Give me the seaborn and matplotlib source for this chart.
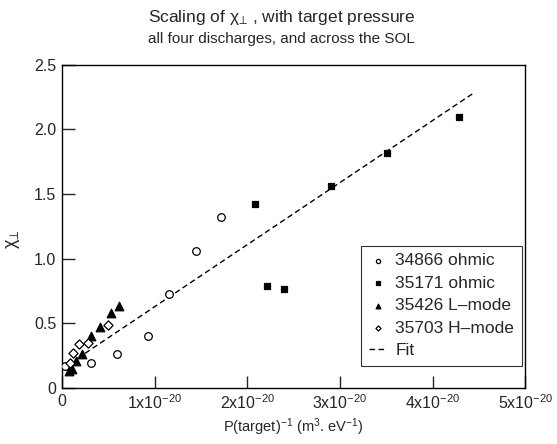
"""Scaling of chi_perp with target pressure, four discharges."""

import matplotlib
matplotlib.use("Agg")
import matplotlib.pyplot as plt
import pandas as pd
import seaborn as sns
from matplotlib.ticker import FixedLocator, FuncFormatter

# x values are in units of 1e-20 m^3 eV^-1
x_34866 = [0.03, 0.32, 0.59, 0.93, 1.16, 1.45, 1.72]
y_34866 = [0.17, 0.19, 0.26, 0.40, 0.73, 1.06, 1.32]

x_35171 = [2.08, 2.21, 2.40, 2.905, 3.51, 4.28]
y_35171 = [1.42, 0.79, 0.77, 1.56, 1.82, 2.10]

x_35426 = [0.08, 0.11, 0.15, 0.22, 0.31, 0.41, 0.53, 0.62]
y_35426 = [0.13, 0.15, 0.21, 0.26, 0.40, 0.47, 0.58, 0.635]

x_35703 = [0.09, 0.12, 0.18, 0.28, 0.50]
y_35703 = [0.19, 0.27, 0.34, 0.35, 0.485]

fit_x = [0.17, 4.45]
fit_y = [0.23, 2.285]

x_ticks = [0, 1, 2, 3, 4, 5]
y_ticks = [0, 0.5, 1.0, 1.5, 2.0, 2.5]

series = [
    ("34866 ohmic", x_34866, y_34866, "o", "white", 30),
    ("35171 ohmic", x_35171, y_35171, "s", "black", 24),
    ("35426 L\u2013mode", x_35426, y_35426, "^", "black", 38),
    ("35703 H\u2013mode", x_35703, y_35703, "D", "white", 22),
]


def tick_label(v, pos):
    if v == 0:
        return "0"
    return f"{int(round(v))}x10$^{{\u221220}}$"


sns.set_style("ticks")
plt.rcParams["font.family"] = ["Liberation Sans", "DejaVu Sans"]
plt.rcParams["mathtext.fontset"] = "custom"
plt.rcParams["mathtext.rm"] = "Liberation Sans"
plt.rcParams["mathtext.it"] = "Liberation Sans"

fig = plt.figure(figsize=(5.57, 4.44), dpi=100)
ax = fig.add_axes([0.111, 0.126, 0.832, 0.728])

for label, xs, ys, marker, face, size in series:
    df = pd.DataFrame({"x": xs, "y": ys})
    sns.scatterplot(data=df, x="x", y="y", marker=marker, s=size,
                    color=face, edgecolor="black", linewidth=0.9,
                    label=label, ax=ax, zorder=3)

fit = pd.DataFrame({"x": fit_x, "y": fit_y})
sns.lineplot(data=fit, x="x", y="y", color="black", linewidth=1.0,
             linestyle=(0, (4, 2.5)), label="Fit", ax=ax, zorder=2)

ax.set_xlim(0, 5)
ax.set_ylim(0, 2.5)
ax.xaxis.set_major_locator(FixedLocator(x_ticks))
ax.yaxis.set_major_locator(FixedLocator(y_ticks))
ax.xaxis.set_major_formatter(FuncFormatter(tick_label))
ax.yaxis.set_major_formatter(FuncFormatter(lambda v, p: "0" if v == 0 else f"{v:.1f}"))
ax.tick_params(direction="in", length=9, width=1.0, labelsize=11.5, pad=4)
for s in ax.spines.values():
    s.set_linewidth(1.0)
    s.set_color("black")

ax.set_xlabel("P(target)$^{\u22121}$ (m$^3$. eV$^{\u22121}$)", fontsize=10.5, labelpad=3)
ax.set_ylabel("\u03c7$_{\u22a5}$", fontsize=13, labelpad=10)
ax.yaxis.set_label_coords(-0.085, 0.46)

fig.text(0.505, 0.96, "Scaling of \u03c7$_{\u22a5}$ , with target pressure",
         ha="center", va="center", fontsize=12.5)
fig.text(0.505, 0.913, "all four discharges, and across the SOL",
         ha="center", va="center", fontsize=11)

leg = ax.legend(loc="lower right", bbox_to_anchor=(0.993, 0.068), fontsize=12.5,
                markerscale=0.55, handlelength=1.0, handletextpad=0.5,
                borderpad=0.45, labelspacing=0.42, borderaxespad=0.0,
                frameon=True, fancybox=False, edgecolor="black")
leg.get_frame().set_linewidth(0.8)

fig.savefig("out.png", dpi=100)
